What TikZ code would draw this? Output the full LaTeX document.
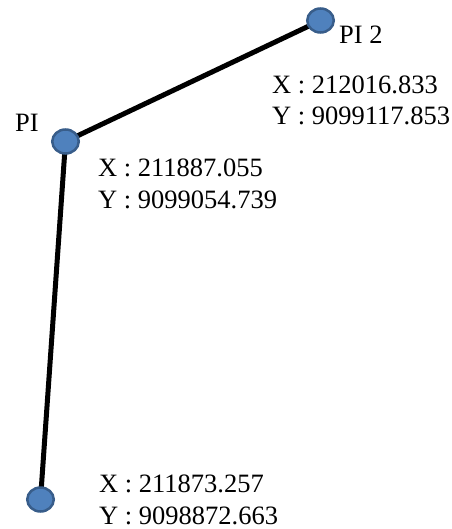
\documentclass[tikz,border=0pt]{standalone}
\usepackage{fontspec}
\setmainfont{Liberation Serif}
\usetikzlibrary{shapes.geometric,backgrounds}
\definecolor{PtBlue}{HTML}{4F81BD}
\definecolor{PtEdge}{HTML}{385D8A}

\begin{document}
\begin{tikzpicture}[x=1pt,y=-1pt,
    pt/.style={ellipse,draw=PtEdge,fill=PtBlue,line width=2.5pt,minimum width=26.5pt,minimum height=24pt,inner sep=0pt},
    leg/.style={line width=5pt,black},
    coords/.style={anchor=base west,align=left,inner sep=0pt,font=\fontsize{26.5}{31.5}\selectfont},
    tag/.style={anchor=base west,inner sep=0pt,font=\fontsize{26.5}{31.5}\selectfont}]
    \useasboundingbox (0,0) rectangle (451,529);
    % survey points
    \node[pt] (pi2) at (320.5,20.5) {};
    \node[pt] (pi) at (65.5,141.5) {};
    \node[pt] (start) at (40.5,499.5) {};
    % legs between the points
    \begin{scope}[on background layer]
        \draw[leg] (start.center) -- (pi.center);
        \draw[leg] (pi.center) -- (pi2.center);
    \end{scope}
    % names and coordinates (base = last line)
    \node[tag] (pi2name) at (339,44) {PI 2};
    \node[tag] (piname) at (15,132) {PI};
    \node[coords] (pi2xy) at (272,125) {X : 212016.833\\Y : 9099117.853};
    \node[coords] (pixy) at (98,208) {X : 211887.055\\Y : 9099054.739};
    \node[coords] (startxy) at (99,524) {X : 211873.257\\Y : 9098872.663};
\end{tikzpicture}
\end{document}
